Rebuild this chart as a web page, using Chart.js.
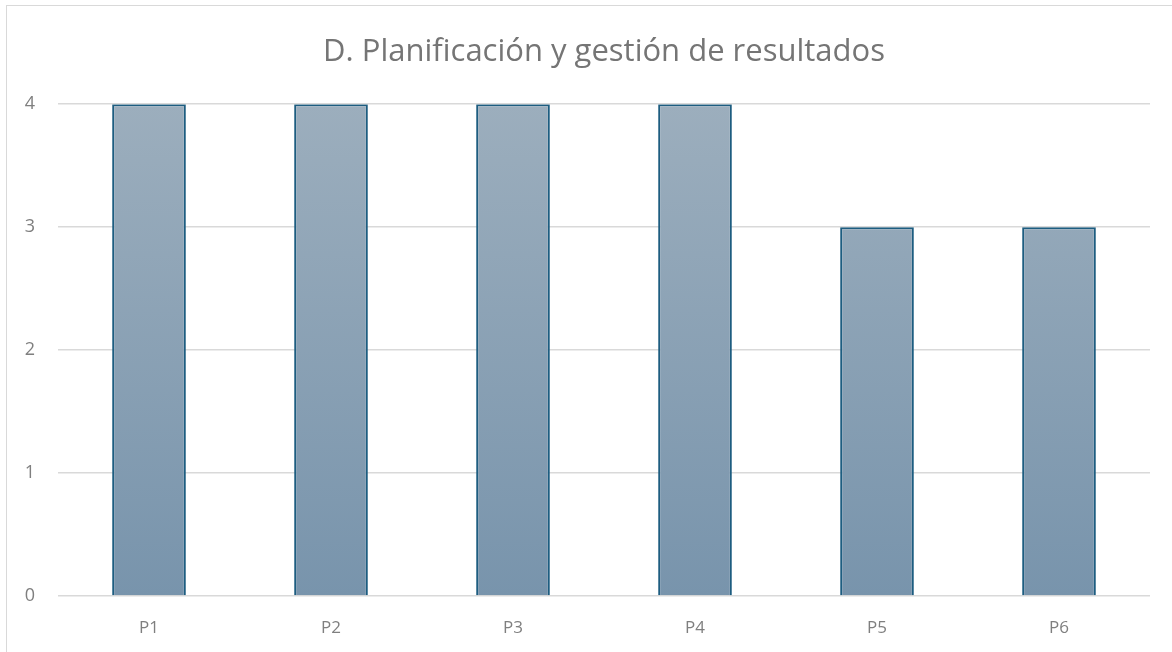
<!DOCTYPE html>
<html>
<head>
<meta charset="utf-8">
<script src="https://cdn.jsdelivr.net/npm/chart.js@4/dist/chart.umd.min.js"></script>
<style>
  html, body { margin: 0; padding: 0; background: #fff; }
  #frame {
    position: absolute; left: 6px; top: 5px; width: 1200px; height: 700px;
    border-top: 1px solid #d9d9d9; border-left: 1px solid #d9d9d9;
  }
  #wrap { position: absolute; left: 0; top: 0; width: 1172px; height: 652px; }
</style>
</head>
<body>
<div id="frame"></div>
<div id="wrap"><canvas id="myChart" width="1172" height="652"></canvas></div>
<script>
// datos del gráfico
const categories = ["P1", "P2", "P3", "P4", "P5", "P6"];
const scores = [4, 4, 4, 4, 3, 3];
const yTicks = [0, 1, 2, 3, 4];

const chartTitle = "D. Planificación y gestión de resultados";

// degradado vertical de las barras
function barGradient(context) {
  const chart = context.chart;
  const area = chart.chartArea;
  if (!area) return "#8aa1b5";
  const g = chart.ctx.createLinearGradient(0, area.top, 0, area.bottom);
  g.addColorStop(0, "#9caebd");
  g.addColorStop(1, "#7894ac");
  return g;
}

const ctx = document.getElementById("myChart").getContext("2d");

new Chart(ctx, {
  type: "bar",
  data: {
    labels: categories,
    datasets: [
      {
        data: scores,
        backgroundColor: barGradient,
        borderColor: "#1d5d80",
        borderWidth: 2,
        borderSkipped: "bottom",
        categoryPercentage: 1,
        barPercentage: 0.405,
      },
    ],
  },
  options: {
    responsive: false,
    animation: false,
    layout: { padding: { left: 22, right: 22, top: 18, bottom: 0 } },
    plugins: {
      legend: { display: false },
      tooltip: { enabled: false },
      title: {
        display: true,
        fullSize: false,
        text: chartTitle,
        color: "#757575",
        font: { family: "'Open Sans', 'Noto Sans', sans-serif", size: 31, weight: "normal", lineHeight: 1.2 },
        padding: { top: 16, bottom: 33 },
      },
    },
    scales: {
      x: {
        grid: { display: false },
        border: { display: false },
        afterFit: (axis) => {
          axis.height = 56;
        },
        ticks: {
          color: "#7f7f7f",
          font: { family: "'Open Sans', 'Noto Sans', sans-serif", size: 17 },
          padding: 14,
        },
      },
      y: {
        min: 0,
        max: 4,
        afterBuildTicks: (axis) => {
          axis.ticks = yTicks.map((v) => ({ value: v }));
        },
        afterFit: (axis) => {
          axis.width = 36;
        },
        grid: { color: "#d9d9d9", lineWidth: 1.5, drawTicks: false },
        border: { display: false },
        ticks: {
          color: "#7f7f7f",
          font: { family: "'Open Sans', 'Noto Sans', sans-serif", size: 18 },
          padding: 23,
        },
      },
    },
  },
});
</script>
</body>
</html>
